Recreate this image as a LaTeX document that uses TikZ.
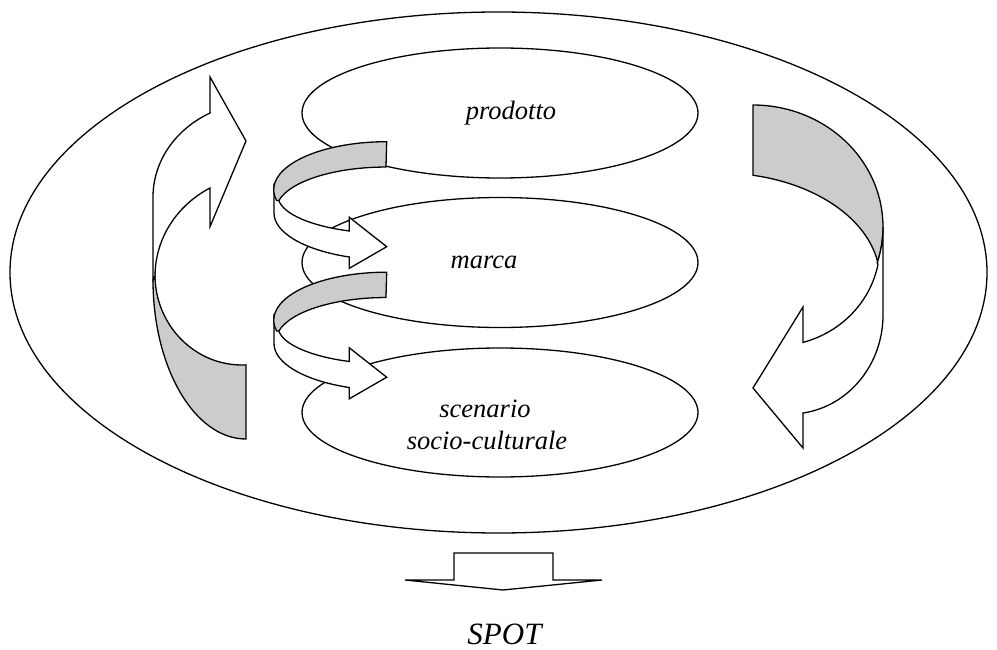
\documentclass[tikz,border=0pt]{standalone}
\usepackage{fontspec}
\setmainfont{Liberation Serif}
\definecolor{bandgray}{HTML}{CCCCCC}
\begin{document}
\begin{tikzpicture}[x=1pt,y=-1pt,
  outline/.style={draw=black, line width=1.3pt, line join=miter},
  front/.style={outline, fill=white},
  back/.style={outline, fill=bandgray},
  label/.style={font=\fontsize{26.5}{30}\selectfont\itshape, inner sep=0pt, anchor=base},
  biglabel/.style={font=\fontsize{31}{34}\selectfont\itshape, inner sep=0pt, anchor=base},
  ribbon/.pic={
    % front band with its head
    \draw[front] (274,186.7) -- (274,213)
      arc[start angle=180, end angle=249.4, x radius=116pt, y radius=47pt]
      -- (349.3,268.3) -- (386.7,246.7) -- (349.3,217.3) -- (349.3,231)
      arc[start angle=248.7, end angle=187, x radius=112pt, y radius=37.6pt]
      -- cycle;
    % back band, seen from behind
    \draw[back] (386.7,141.7)
      arc[start angle=90, end angle=193, x radius=113pt, y radius=48pt]
      -- (278.8,200.6)
      arc[start angle=167, end angle=90, x radius=110pt, y radius=43.3pt]
      -- cycle;
  }]

\useasboundingbox (0,0) rectangle (997,650);
\fill[white] (0,0) rectangle (997,650);

% enclosing ellipse
\draw[outline] (498.5,272.5) ellipse [x radius=488.5pt, y radius=260.5pt];

% the three levels
\draw[outline] (500,113) ellipse [x radius=198pt, y radius=65pt];
\draw[outline] (500,262.5) ellipse [x radius=198pt, y radius=65pt];
\draw[outline] (500,412.5) ellipse [x radius=198pt, y radius=64.5pt];

\node[label] (prodotto) at (511,120) {prodotto};
\node[label] (marca) at (484,269) {marca};
\node[label] (scenario) at (485,417) {scenario};
\node[label] (socio) at (487,449) {socio-culturale};

% ribbons linking the levels
\pic at (0,0) {ribbon};
\pic at (0,130.5) {ribbon};

% left curved arrow: back band, then front band with head
\draw[back] (246,439)
  arc[start angle=270, end angle=180, x radius=93pt, y radius=159pt]
  -- (155,275)
  arc[start angle=180, end angle=272.6, x radius=87pt, y radius=90pt]
  -- cycle;
\draw[front] (153,280) -- (153,197)
  arc[start angle=180, end angle=117.8, x radius=107pt, y radius=95pt]
  -- (210,77) -- (246,141) -- (210,226.7) -- (210,188)
  arc[start angle=119.1, end angle=180, x radius=107pt, y radius=100.7pt]
  -- cycle;

% right curved arrow: back band, then front band with head
\draw[back] (753,105)
  arc[start angle=90, end angle=-17, x radius=130pt, y radius=122pt]
  -- (878,263.1)
  arc[start angle=9.07, end angle=78.1, x radius=160pt, y radius=107pt]
  -- cycle;
\draw[front] (877.3,262.7)
  arc[start angle=-17, end angle=0, x radius=130pt, y radius=122pt]
  -- (883,315)
  arc[start angle=0, end angle=-82, x radius=93pt, y radius=99pt]
  -- (803,448) -- (753,388) -- (803,307) -- (803,342.4)
  arc[start angle=-74.5, end angle=-11, x radius=105pt, y radius=101pt]
  -- cycle;

% output arrow
\draw[front] (454,580) -- (454,553) -- (553,553) -- (553,580) -- (602,580)
  -- (503,590) -- (405,580) -- cycle;
\node[biglabel] (spot) at (504.5,644.5) {SPOT};

\end{tikzpicture}
\end{document}
